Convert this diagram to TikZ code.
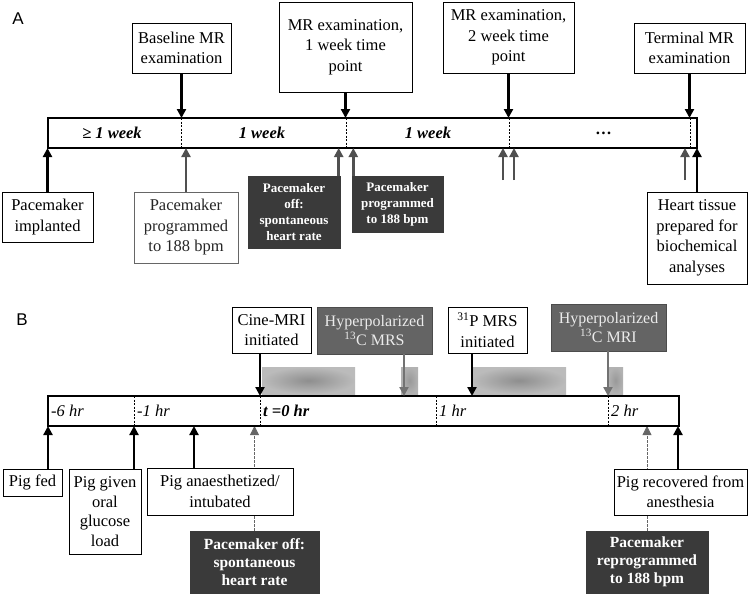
\documentclass[tikz,border=0pt]{standalone}
\usepackage{fontspec}
\setmainfont{Liberation Serif}
\setsansfont{Liberation Sans}
\usetikzlibrary{arrows.meta,backgrounds}
\definecolor{darkbox}{HTML}{3A3A3A}
\definecolor{midbox}{HTML}{646464}
\definecolor{garrow}{HTML}{505050}
\definecolor{harrow}{HTML}{727272}
\definecolor{shadein}{HTML}{8E8E8E}
\definecolor{shadeout}{HTML}{BBBBBB}
\begin{document}
\begin{tikzpicture}[x=1pt,y=-1pt,
  wbox/.style={draw=black, line width=0.9pt, fill=white, align=center, inner sep=0pt,
    font=\fontsize{16.5}{20.5}\selectfont},
  gbox/.style={wbox, draw=black!60, text=black!85},
  dboxA/.style={fill=darkbox, draw=darkbox, text=white, align=center, inner sep=0pt,
    font=\bfseries\fontsize{13}{16}\selectfont},
  dboxB/.style={dboxA, font=\bfseries\fontsize{15.5}{18}\selectfont},
  hbox/.style={fill=midbox, draw=black!70, line width=0.6pt, text=black!8, align=center, inner sep=0pt,
    font=\fontsize{16}{19}\selectfont},
  barr/.style={line width=2.2pt, -{Triangle[length=9pt,width=9pt]}},
  garr/.style={line width=2.6pt, draw=garrow, -{Triangle[length=9pt,width=9pt]}},
  harr/.style={line width=2.6pt, draw=harrow, -{Triangle[length=9pt,width=9pt]}},
  darr/.style={line width=0.8pt, draw=black!60, dash pattern=on 2.5pt off 1.5pt, -{Triangle[length=9pt,width=9pt]}},
  timebar/.style={draw=black, line width=2pt, fill=white},
  divider/.style={draw=black, line width=0.6pt, dash pattern=on 2pt off 1.5pt},
  barlab/.style={font=\bfseries\itshape\fontsize{16.5}{18}\selectfont, inner sep=0pt},
  barlabB/.style={font=\itshape\fontsize{16.5}{18}\selectfont, inner sep=0pt, anchor=west},
  panel/.style={font=\sffamily\fontsize{17}{18}\selectfont, inner sep=0pt},
  blob/.style={inner color=shadein, outer color=shadeout}
]
\useasboundingbox (0,0) rectangle (750,595);

% ================= Panel A =================
\node[panel] (labA) at (18,18.5) {A};
\draw[timebar] (48,118) rectangle (697,148);
\coordinate (Atop) at (0,118);
\coordinate (Abot) at (0,148);
\foreach \x in {181,346,509,690} \draw[divider] (\x,118) -- (\x,148);
\node[barlab] (lw0) at (112,133) {≥ 1 week};
\node[barlab] (lw1) at (262,133) {1 week};
\node[barlab] (lw2) at (428,133) {1 week};
\node[barlab] (lw3) at (604,133) {…};

\node[wbox, minimum width=99, minimum height=50] (base) at (181.5,48) {Baseline MR\\examination};
\node[wbox, minimum width=133, minimum height=90] (wk1) at (345.5,47) {MR examination,\\1 week time\\point};
\node[wbox, minimum width=131, minimum height=71] (wk2) at (508.5,37.5) {MR examination,\\2 week time\\point};
\node[wbox, minimum width=111, minimum height=50] (term) at (689.5,48) {Terminal MR\\examination};

\draw[barr] (base.south) -- (base.south |- Atop);
\draw[barr] (wk1.south) -- (wk1.south |- Atop);
\draw[barr] (wk2.south) -- (wk2.south |- Atop);
\draw[barr] (term.south) -- (term.south |- Atop);

\node[wbox, minimum width=91, minimum height=50] (impl) at (47.5,217) {Pacemaker\\implanted};
\node[gbox, minimum width=104, minimum height=71] (prog) at (186,227.5) {Pacemaker\\programmed\\to 188 bpm};
\node[dboxA, minimum width=92, minimum height=72] (poffA) at (294,212) {Pacemaker\\off:\\spontaneous\\heart rate};
\node[dboxA, minimum width=91, minimum height=56] (pprogA) at (397.5,204) {Pacemaker\\programmed\\to 188 bpm};
\node[wbox, minimum width=100, minimum height=92] (heart) at (697,238) {Heart tissue\\prepared for\\biochemical\\analyses};

\coordinate (g1) at (503,180);
\coordinate (g2) at (514,180);
\coordinate (g3) at (685,180);

\draw[barr] (impl.north) -- (impl.north |- Abot);
\draw[garr] (prog.north) -- (prog.north |- Abot);
\draw[garr] ([xshift=-1.5pt]poffA.north east) -- ([xshift=-1.5pt]poffA.north east |- Abot);
\draw[garr] ([xshift=1.5pt]pprogA.north west) -- ([xshift=1.5pt]pprogA.north west |- Abot);
\draw[garr] (g1) -- (g1 |- Abot);
\draw[garr] (g2) -- (g2 |- Abot);
\draw[garr] (g3) -- (g3 |- Abot);
\draw[barr] (heart.north) -- (heart.north |- Abot);

% ================= Panel B =================
\node[panel] (labB) at (22,320) {B};
\draw[timebar] (48,396) rectangle (679,426);
\coordinate (Btop) at (0,396);
\coordinate (Bbot) at (0,426);
\foreach \x in {134,260,436,608} \draw[divider] (\x,396) -- (\x,426);
\node[barlabB] (bl1) at (51,411) {-6 hr};
\node[barlabB] (bl2) at (137,411) {-1 hr};
\node[barlabB, font=\bfseries\itshape\fontsize{16.5}{18}\selectfont] (bl3) at (263,411) {t =0 hr};
\node[barlabB] (bl4) at (439,411) {1 hr};
\node[barlabB] (bl5) at (611,411) {2 hr};

% shaded acquisition blocks
\shade[blob] (262,367) rectangle (355,394);
\shade[blob] (472,367) rectangle (566,394);
\shade[inner color=black!40, outer color=black!30] (401,367) rectangle (418,394);
\shade[inner color=black!40, outer color=black!30] (608,367) rectangle (623,394);

\node[wbox, minimum width=79, minimum height=46] (cine) at (271.5,330) {Cine-MRI\\initiated};
\node[hbox, minimum width=115, minimum height=47] (hmrs) at (374.5,330.5) {Hyperpolarized\\\textsuperscript{13}C MRS};
\node[wbox, minimum width=79, minimum height=46] (p31) at (487.5,330) {\textsuperscript{31}P MRS\\initiated};
\node[hbox, minimum width=115, minimum height=47] (hmri) at (608.5,327.5) {Hyperpolarized\\\textsuperscript{13}C MRI};

\coordinate (t0) at (260,396);
\coordinate (tmrs) at (404,396);
\coordinate (tp) at (472,396);
\coordinate (tmri) at (608,396);
\draw[barr] (cine.south -| t0) -- (t0);
\draw[harr] (hmrs.south -| tmrs) -- (tmrs);
\draw[barr] (p31.south -| tp) -- (tp);
\draw[harr] (hmri.south -| tmri) -- (tmri);

\node[wbox, minimum width=59, minimum height=27] (fed) at (32.5,482.5) {Pig fed};
\node[wbox, minimum width=72, minimum height=85, font=\fontsize{16.5}{19.5}\selectfont] (gluc) at (105,511.5) {Pig given\\oral\\glucose\\load};
\node[dboxB, minimum width=129, minimum height=62] (poffB) at (254.5,562) {Pacemaker off:\\spontaneous\\heart rate};
\node[dboxB, minimum width=122, minimum height=62] (reprog) at (647,562) {Pacemaker\\reprogrammed\\to 188 bpm};

\begin{scope}[on background layer]
\draw[darr] (poffB.north) -- (poffB.north |- Bbot);
\draw[darr] (reprog.north) -- (reprog.north |- Bbot);
\end{scope}

\node[wbox, minimum width=146, minimum height=47] (anes) at (220,491.5) {Pig anaesthetized/\\intubated};
\node[wbox, minimum width=133, minimum height=46] (recov) at (680.5,492) {Pig recovered from\\anesthesia};

\coordinate (bf) at (48,426);
\coordinate (bg) at (134,426);
\coordinate (ba) at (194,426);
\coordinate (br) at (678,426);
\draw[barr] (fed.north -| bf) -- (bf);
\draw[barr] (gluc.north -| bg) -- (bg);
\draw[barr] (anes.north -| ba) -- (ba);
\draw[barr] (recov.north -| br) -- (br);
\end{tikzpicture}
\end{document}
